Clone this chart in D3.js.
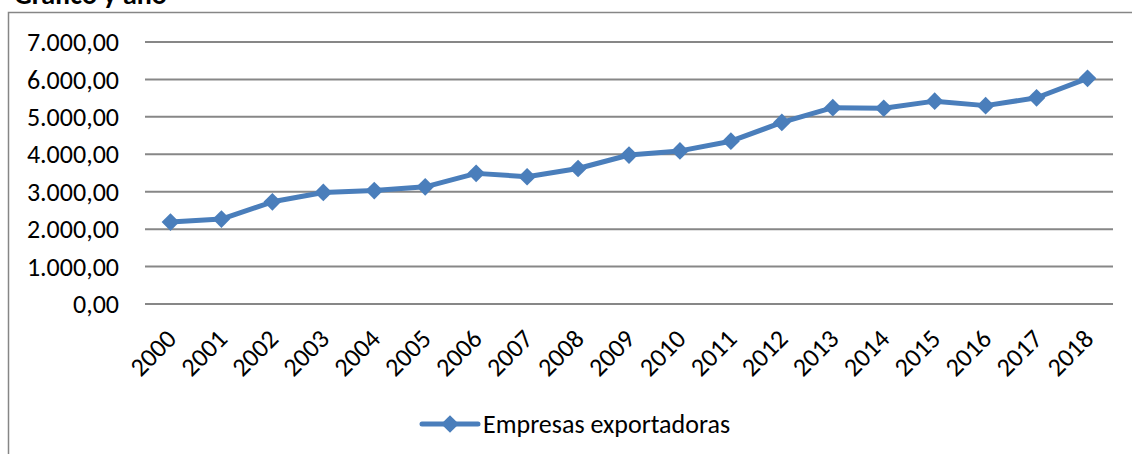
<!DOCTYPE html>
<html>
<head>
<meta charset="utf-8">
<script src="https://cdn.jsdelivr.net/npm/d3@7"></script>
<style>
  body { margin: 0; background: #fff; }
  text { font-family: Carlito, Calibri, Lato, "Open Sans", sans-serif; fill: #000; }
</style>
</head>
<body>
<div class="container"></div>
<script>
// data
var years = ["2000","2001","2002","2003","2004","2005","2006","2007","2008","2009",
             "2010","2011","2012","2013","2014","2015","2016","2017","2018"];
var empresas = [2190, 2270, 2730, 2980, 3030, 3130, 3490, 3400, 3620, 3980,
                4090, 4350, 4850, 5245, 5230, 5420, 5300, 5510, 6030];
var yTicks = [0, 1000, 2000, 3000, 4000, 5000, 6000, 7000];
var seriesName = "Empresas exportadoras";

var width = 1132, height = 454;
var margin = {top: 42, right: 19, bottom: 150, left: 145};

var svg = d3.select(".container").append("svg")
    .attr("width", width)
    .attr("height", height);

// title, cut off by the top edge as in the source
svg.append("text")
    .attr("x", 14)
    .attr("y", 4)
    .style("font-weight", "bold")
    .style("font-size", "28px")
    .text("Gráfico y año");

// chart frame
svg.append("rect")
    .attr("x", 8.5)
    .attr("y", 12.5)
    .attr("width", 1140)
    .attr("height", 460)
    .attr("fill", "none")
    .attr("stroke", "#868686")
    .attr("stroke-width", 1.5);

var x = d3.scaleBand()
    .domain(years)
    .range([margin.left, width - margin.right]);

var y = d3.scaleLinear()
    .domain([0, 7000])
    .range([304, margin.top]);

var fmt = function(v) {
  return d3.format(",.2f")(v).replace(/,/g, "#").replace(/\./g, ",").replace(/#/g, ".");
};

// gridlines
svg.append("g").selectAll("line")
    .data(yTicks)
  .enter().append("line")
    .attr("x1", margin.left)
    .attr("x2", width - margin.right)
    .attr("y1", function(d) { return y(d); })
    .attr("y2", function(d) { return y(d); })
    .attr("stroke", "#878787")
    .attr("stroke-width", 2);

// y labels
svg.append("g").selectAll("text")
    .data(yTicks)
  .enter().append("text")
    .attr("x", 119)
    .attr("y", function(d) { return y(d); })
    .attr("dy", "0.35em")
    .style("text-anchor", "end")
    .style("font-size", "26px")
    .text(fmt);

// x labels, rotated
svg.append("g").selectAll("text")
    .data(years)
  .enter().append("text")
    .attr("transform", function(d) {
      return "translate(" + (x(d) + x.bandwidth() / 2 + 1) + ",334) rotate(-45)";
    })
    .attr("dy", "0.35em")
    .style("text-anchor", "end")
    .style("font-size", "26px")
    .text(function(d) { return d; });

var color = "#4a7ebb";

var line = d3.line()
    .x(function(d, i) { return x(years[i]) + x.bandwidth() / 2; })
    .y(function(d) { return y(d); });

svg.append("path")
    .datum(empresas)
    .attr("d", line)
    .attr("fill", "none")
    .attr("stroke", color)
    .attr("stroke-width", 5)
    .attr("stroke-linejoin", "round");

var diamond = d3.symbol().type(d3.symbolDiamond2).size(200);

svg.append("g").selectAll("path")
    .data(empresas)
  .enter().append("path")
    .attr("d", diamond)
    .attr("transform", function(d, i) {
      return "translate(" + (x(years[i]) + x.bandwidth() / 2) + "," + y(d) + ")";
    })
    .attr("fill", color);

// legend
var lg = svg.append("g").attr("transform", "translate(450,424)");
lg.append("line")
    .attr("x1", -28).attr("x2", 28)
    .attr("stroke", color)
    .attr("stroke-width", 5)
    .attr("stroke-linecap", "round");
lg.append("path")
    .attr("d", diamond)
    .attr("fill", color);
lg.append("text")
    .attr("x", 33)
    .attr("dy", "0.35em")
    .style("font-size", "26px")
    .text(seriesName);
</script>
</body>
</html>
